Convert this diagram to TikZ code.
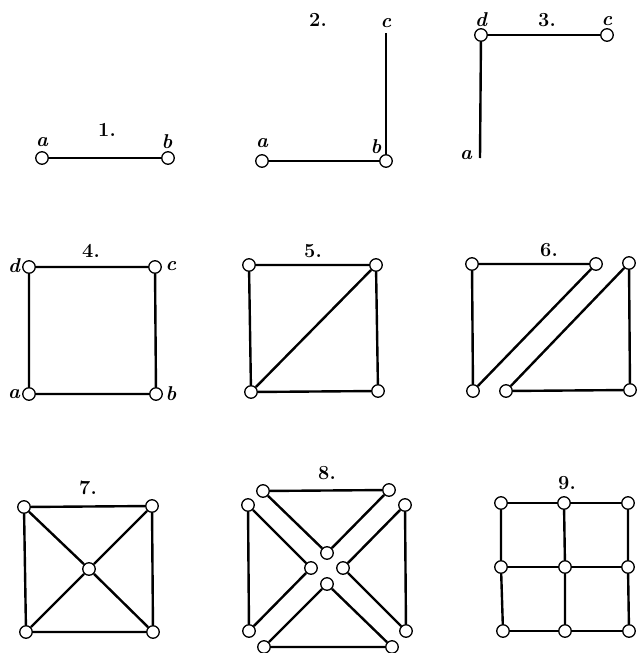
\documentclass[tikz,border=0pt]{standalone}
\usepackage{fontspec}
\begin{document}
\begin{tikzpicture}[x=1pt,y=-1pt,
  vtx/.style={circle,draw,fill=white,line width=1.3pt,minimum size=12.5pt,inner sep=0pt},
  edge/.style={line width=2.4pt},
  num/.style={font=\fontsize{20}{22}\selectfont\bfseries,inner sep=0pt},
  lbl/.style={font=\fontsize{20}{22}\selectfont\bfseries\itshape,inner sep=0pt}]
\useasboundingbox (0,0) rectangle (637,653);
% Fig 1
\node[num] (n1) at (107,130) {1.};
\node[vtx] (1a) at (42,158) {};
\node[vtx] (1b) at (168,158) {};
\node[lbl] (l1a) at (42,142) {a};
\node[lbl] (l1b) at (167,142) {b};
\draw[edge] (1a) -- (1b);
% Fig 2
\node[num] (n2) at (318,20) {2.};
\node[vtx] (2a) at (262,161) {};
\node[vtx] (2b) at (386,161) {};
\coordinate (2c) at (386,33);
\node[lbl] (l2a) at (262,143) {a};
\node[lbl] (l2b) at (376,147) {b};
\node[lbl] (l2c) at (386,23) {c};
\draw[edge] (2a) -- (2b);
\draw[edge] (2b) -- (2c);
% Fig 3
\node[num] (n3) at (547,20) {3.};
\node[vtx] (3d) at (481,35) {};
\node[vtx] (3c) at (607,35) {};
\coordinate (3a) at (480,158);
\node[lbl] (l3d) at (481,20) {d};
\node[lbl] (l3c) at (607,21) {c};
\node[lbl] (l3a) at (466,155) {a};
\draw[edge] (3d) -- (3c);
\draw[edge] (3d) -- (3a);
% Fig 4
\node[num] (n4) at (91,251) {4.};
\node[vtx] (4d) at (29,267) {};
\node[vtx] (4c) at (155,267) {};
\node[vtx] (4a) at (29,394) {};
\node[vtx] (4b) at (156,394) {};
\node[lbl] (l4d) at (14,266) {d};
\node[lbl] (l4c) at (171,266) {c};
\node[lbl] (l4a) at (14,394) {a};
\node[lbl] (l4b) at (171,394) {b};
\draw[edge] (4d) -- (4c) -- (4b) -- (4a) -- (4d);
% Fig 5
\node[num] (n5) at (313,251) {5.};
\node[vtx] (5tl) at (249,265) {};
\node[vtx] (5tr) at (376,265) {};
\node[vtx] (5bl) at (251,392) {};
\node[vtx] (5br) at (378,391) {};
\draw[edge] (5tl) -- (5tr) -- (5br) -- (5bl) -- (5tl);
\draw[edge] (5bl) -- (5tr);
% Fig 6
\node[num] (n6) at (549,250) {6.};
\node[vtx] (6tl) at (472,264) {};
\node[vtx] (6tm) at (596,264) {};
\node[vtx] (6tr) at (629,263) {};
\node[vtx] (6bl) at (473,391) {};
\node[vtx] (6bm) at (506,391) {};
\node[vtx] (6br) at (630,390) {};
\draw[edge] (6tm) -- (6tl) -- (6bl) -- (6tm);
\draw[edge] (6tr) -- (6br) -- (6bm) -- (6tr);
% Fig 7
\node[num] (n7) at (88,488) {7.};
\node[vtx] (7tl) at (24,507) {};
\node[vtx] (7tr) at (152,506) {};
\node[vtx] (7c) at (89,569) {};
\node[vtx] (7bl) at (26,632) {};
\node[vtx] (7br) at (153,632) {};
\draw[edge] (7tl) -- (7tr) -- (7br) -- (7bl) -- (7tl);
\draw[edge] (7tl) -- (7c) -- (7br);
\draw[edge] (7tr) -- (7c) -- (7bl);
% Fig 8
\node[num] (n8) at (327,473) {8.};
\node[vtx] (8t1) at (263,491) {};
\node[vtx] (8t2) at (389,490) {};
\node[vtx] (8l1) at (248,505) {};
\node[vtx] (8l2) at (249,631) {};
\node[vtx] (8r1) at (405,505) {};
\node[vtx] (8r2) at (406,631) {};
\node[vtx] (8b1) at (264,647) {};
\node[vtx] (8b2) at (392,647) {};
\node[vtx] (8ct) at (327,553) {};
\node[vtx] (8cl) at (311,568) {};
\node[vtx] (8cr) at (343,568) {};
\node[vtx] (8cb) at (327,584) {};
\draw[edge] (8t1) -- (8t2) -- (8ct) -- (8t1);
\draw[edge] (8l1) -- (8l2) -- (8cl) -- (8l1);
\draw[edge] (8r1) -- (8r2) -- (8cr) -- (8r1);
\draw[edge] (8b1) -- (8b2) -- (8cb) -- (8b1);
% Fig 9
\node[num] (n9) at (567,483) {9.};
\node[vtx] (9a1) at (501,503) {};
\node[vtx] (9a2) at (564,503) {};
\node[vtx] (9a3) at (628,503) {};
\node[vtx] (9b1) at (501,567) {};
\node[vtx] (9b2) at (565,567) {};
\node[vtx] (9b3) at (628,567) {};
\node[vtx] (9c1) at (503,631) {};
\node[vtx] (9c2) at (565,631) {};
\node[vtx] (9c3) at (629,631) {};
\draw[edge] (9a1) -- (9a2) -- (9a3);
\draw[edge] (9b1) -- (9b2) -- (9b3);
\draw[edge] (9c1) -- (9c2) -- (9c3);
\draw[edge] (9a1) -- (9b1) -- (9c1);
\draw[edge] (9a2) -- (9b2) -- (9c2);
\draw[edge] (9a3) -- (9b3) -- (9c3);
\end{tikzpicture}
\end{document}
